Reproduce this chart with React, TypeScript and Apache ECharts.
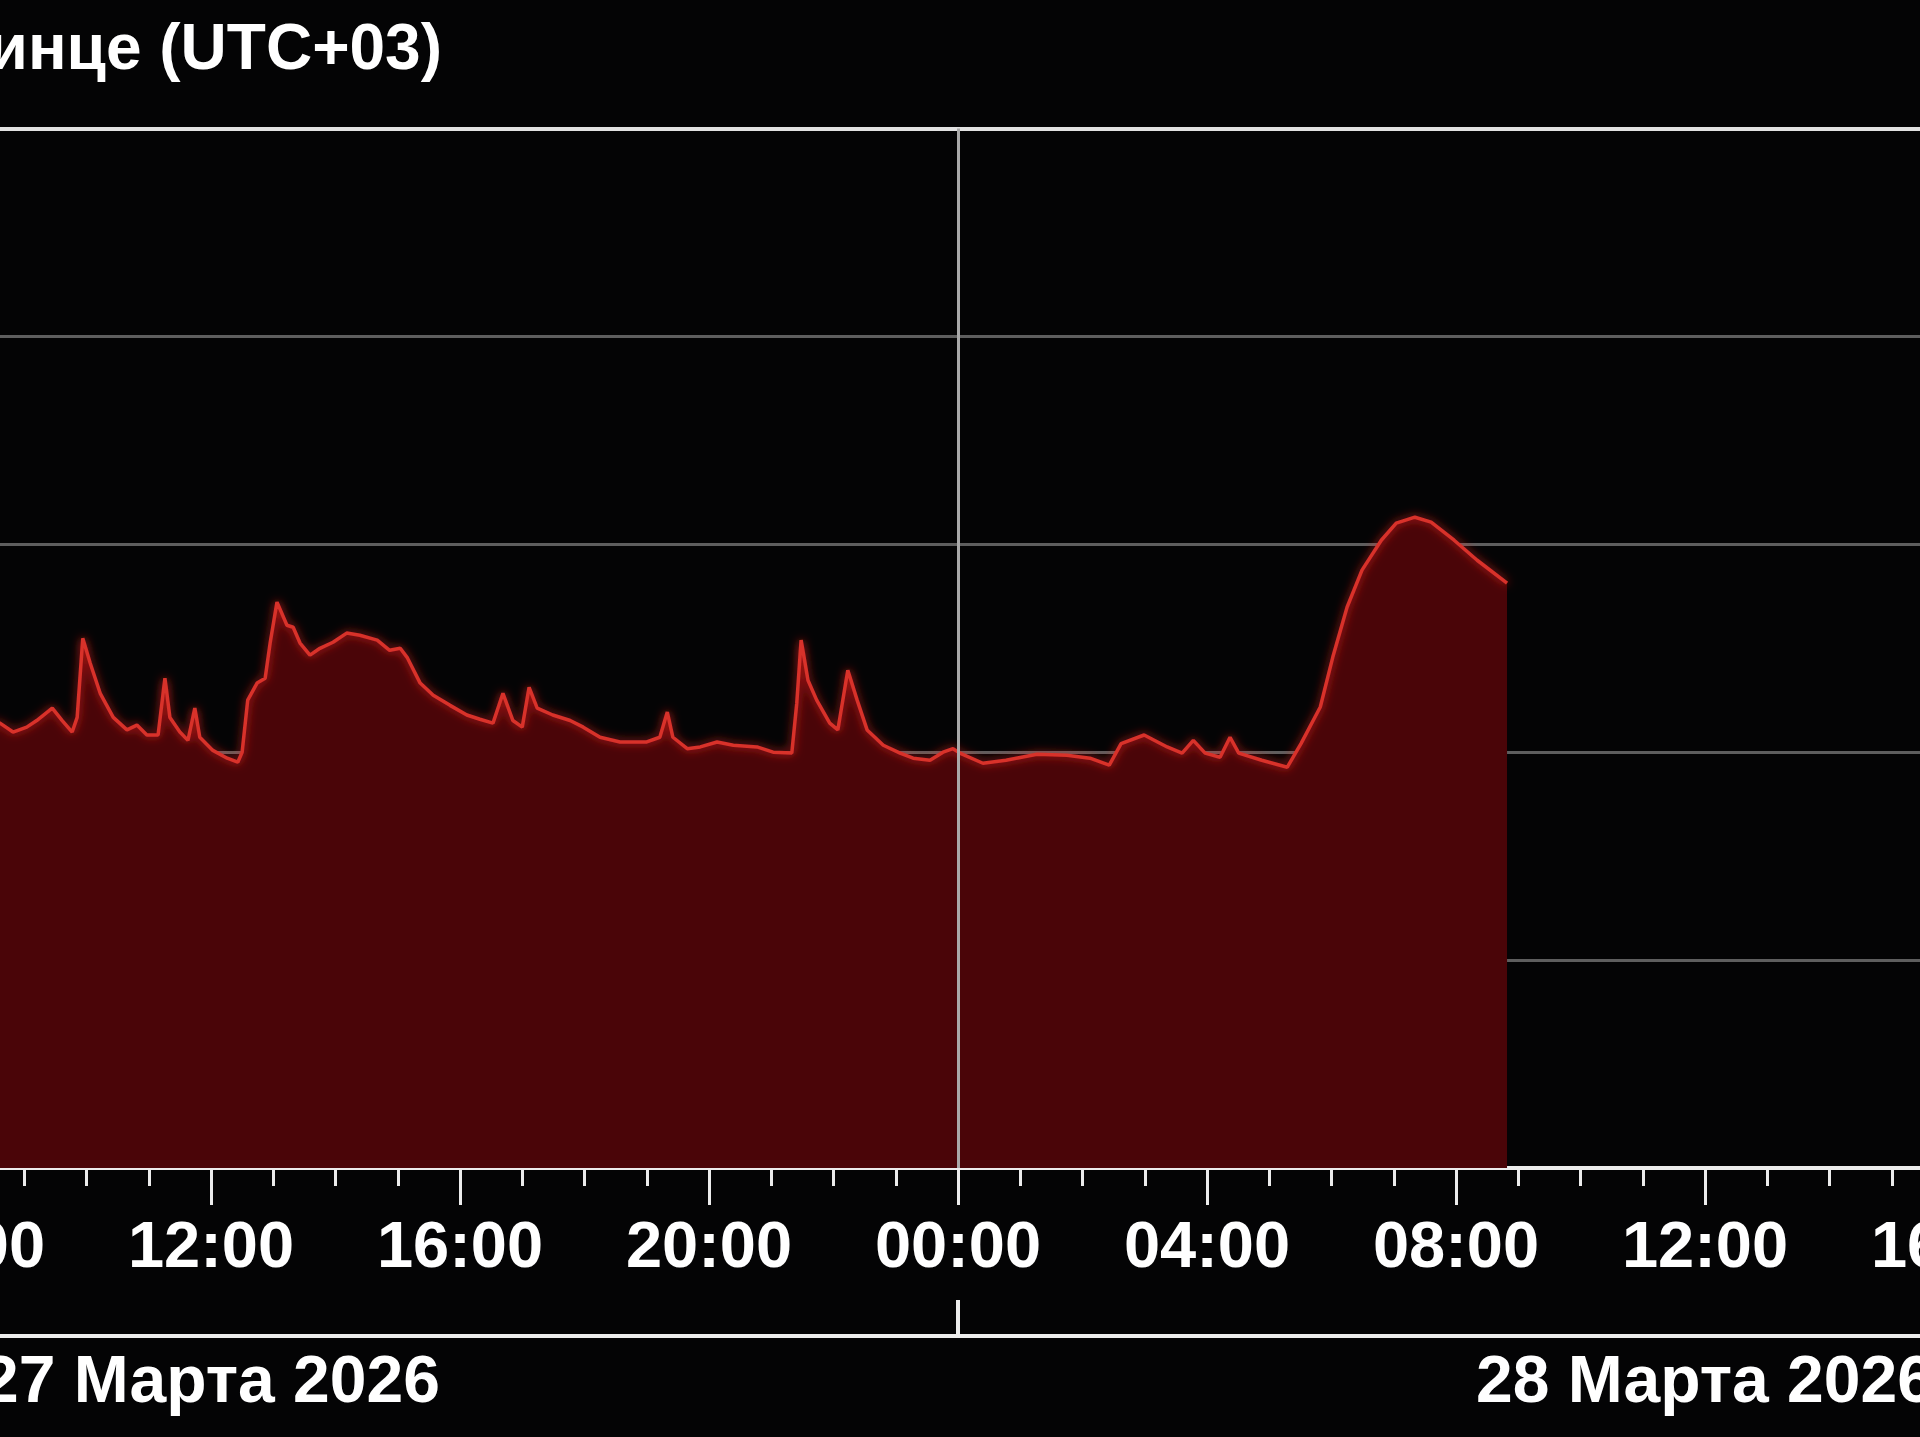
import React, { useEffect, useRef } from 'react';
import * as echarts from 'echarts';

// Hours counted from 27 March 2026 00:00 (UTC+03)
const HOURS = [
  8.4, 8.61, 8.82, 9.04, 9.2, 9.45, 9.61, 9.77, 9.85, 9.94, 10.06, 10.22, 10.43, 10.65, 10.81, 10.97,
  11.15, 11.26, 11.34, 11.5, 11.63, 11.74, 11.82, 12.03, 12.26, 12.43, 12.5, 12.59, 12.74, 12.87, 12.95,
  13.06, 13.22, 13.32, 13.43, 13.59, 13.75, 13.96, 14.18, 14.39, 14.67, 14.87, 15.04, 15.15, 15.36, 15.57,
  15.84, 16.11, 16.32, 16.53, 16.69, 16.85, 17.0, 17.11, 17.24, 17.49, 17.77, 17.98, 18.25, 18.57, 19.0,
  19.21, 19.33, 19.42, 19.65, 19.86, 20.13, 20.39, 20.77, 21.03, 21.33, 21.41, 21.48, 21.59, 21.73, 21.94,
  22.07, 22.23, 22.38, 22.54, 22.8, 23.07, 23.28, 23.55, 23.76, 23.92, 24.03, 24.4, 24.77, 25.27, 25.75,
  26.12, 26.43, 26.62, 26.99, 27.36, 27.6, 27.78, 27.97, 28.21, 28.37, 28.51, 28.88, 29.29, 29.51, 29.82,
  30.02, 30.25, 30.49, 30.8, 31.04, 31.34, 31.6, 31.97, 32.34, 32.82,
];

// X-ray flux, W/m^2
const FLUX = [
  1.38e-7, 1.38e-7, 1.25e-7, 1.32e-7, 1.42e-7, 1.63e-7, 1.42e-7, 1.25e-7, 1.47e-7, 3.53e-7, 2.68e-7, 1.92e-7, 1.47e-7, 1.28e-7, 1.35e-7, 1.21e-7,
  1.21e-7, 2.27e-7, 1.47e-7, 1.25e-7, 1.14e-7, 1.63e-7, 1.18e-7, 1.02e-7, 9.36e-8, 8.95e-8, 1.0e-7, 1.78e-7, 2.15e-7, 2.27e-7, 3.35e-7,
  5.27e-7, 4.08e-7, 3.99e-7, 3.35e-7, 2.93e-7, 3.16e-7, 3.38e-7, 3.74e-7, 3.65e-7, 3.46e-7, 3.09e-7, 3.16e-7, 2.86e-7, 2.15e-7, 1.88e-7,
  1.68e-7, 1.51e-7, 1.44e-7, 1.38e-7, 1.92e-7, 1.42e-7, 1.32e-7, 2.05e-7, 1.63e-7, 1.51e-7, 1.42e-7, 1.32e-7, 1.18e-7, 1.12e-7, 1.12e-7,
  1.18e-7, 1.56e-7, 1.18e-7, 1.04e-7, 1.06e-7, 1.12e-7, 1.08e-7, 1.06e-7, 1.0e-7, 9.9e-8, 1.72e-7, 3.46e-7, 2.22e-7, 1.78e-7, 1.38e-7,
  1.28e-7, 2.48e-7, 1.78e-7, 1.28e-7, 1.08e-7, 9.9e-8, 9.36e-8, 9.15e-8, 1.0e-7, 1.04e-7, 9.9e-8, 8.85e-8, 9.15e-8, 9.78e-8, 9.67e-8,
  9.36e-8, 8.66e-8, 1.1e-7, 1.21e-7, 1.06e-7, 9.9e-8, 1.14e-7, 9.9e-8, 9.46e-8, 1.18e-7, 9.9e-8, 9.15e-8, 8.47e-8, 1.1e-7, 1.65e-7,
  2.86e-7, 4.98e-7, 7.51e-7, 1.046e-6, 1.264e-6, 1.35e-6, 1.278e-6, 1.046e-6, 8.38e-7, 6.5e-7,
];

const X_MIN = 4;
const X_MAX = 44;
const DAY_BOUNDARY = [24];
const DATE_LABEL_HOURS = [12, 36];
const DATE_LABELS = ['27 Марта 2026', '28 Марта 2026'];
const TITLE = 'инце (UTC+03)';
const Y_MIN = 1e-9;
const Y_MAX = 1e-4;

const FONT = "'Liberation Sans', Arial, sans-serif";

export default function App() {
  const ref = useRef<HTMLDivElement>(null);
  useEffect(() => {
    const chart = echarts.init(ref.current as HTMLDivElement, null, { renderer: 'svg' });
    const data = HOURS.map((h, i) => [h, FLUX[i]]);
    const fmt = (v: number) => {
      const h = ((Math.round(v) % 24) + 24) % 24;
      return (h < 10 ? '0' : '') + h + ':00';
    };
    const white = '#ececec';
    chart.setOption({
      animation: false,
      backgroundColor: '#040405',
      grid: {
        left: -287,
        right: -283,
        top: 128.5,
        bottom: 269,
        containLabel: false,
        outerBoundsMode: 'none',
      },
      graphic: [
        {
          type: 'text',
          x: 442,
          y: 47,
          style: {
            text: TITLE,
            fill: '#ffffff',
            fontSize: 64,
            fontWeight: 'bold',
            fontFamily: FONT,
            align: 'right',
            verticalAlign: 'middle',
          },
        },
      ],
      xAxis: [
        {
          type: 'value',
          min: X_MIN,
          max: X_MAX,
          interval: 4,
          position: 'bottom',
          axisLine: { show: true, lineStyle: { color: white, width: 4 } },
          axisTick: { show: true, length: 37, lineStyle: { color: white, width: 3 } },
          minorTick: { show: true, splitNumber: 4, length: 18, lineStyle: { color: white, width: 3 } },
          axisLabel: {
            color: '#ffffff',
            fontSize: 65,
            fontWeight: 'bold',
            fontFamily: FONT,
            margin: 44,
            formatter: fmt,
          },
          splitLine: { show: false },
          minorSplitLine: { show: false },
        },
        {
          type: 'value',
          min: X_MIN,
          max: X_MAX,
          interval: 4,
          position: 'bottom',
          offset: 168,
          axisLine: { show: true, lineStyle: { color: white, width: 4 } },
          axisTick: {
            show: true,
            inside: true,
            length: 36,
            customValues: DAY_BOUNDARY,
            lineStyle: { color: white, width: 4 },
          },
          axisLabel: {
            color: '#ffffff',
            fontSize: 66,
            fontWeight: 'bold',
            fontFamily: FONT,
            margin: 10,
            customValues: DATE_LABEL_HOURS,
            formatter: (v: number) => {
              const i = DATE_LABEL_HOURS.indexOf(Math.round(v));
              return i >= 0 ? DATE_LABELS[i] : '';
            },
          },
          splitLine: { show: false },
        },
        {
          type: 'value',
          min: X_MIN,
          max: X_MAX,
          position: 'top',
          axisLine: { show: true, lineStyle: { color: '#e2e2e2', width: 4 } },
          axisTick: { show: false },
          axisLabel: { show: false },
          splitLine: { show: false },
        },
      ],
      yAxis: {
        type: 'log',
        logBase: 10,
        min: Y_MIN,
        max: Y_MAX,
        axisLine: { show: false },
        axisTick: { show: false },
        axisLabel: { show: false },
        splitLine: { show: true, lineStyle: { color: '#5e5e5e', width: 3 } },
      },
      series: [
        {
          type: 'line',
          xAxisIndex: 0,
          yAxisIndex: 0,
          data,
          symbol: 'none',
          showSymbol: false,
          smooth: false,
          lineStyle: {
            color: '#d8302a',
            width: 3.5,
            shadowColor: 'rgba(255,40,35,0.8)',
            shadowBlur: 10,
          },
          areaStyle: { color: '#4a0508', opacity: 1, origin: 'start' },
          markLine: {
            silent: true,
            symbol: ['none', 'none'],
            label: { show: false },
            lineStyle: { color: '#a9a9a9', width: 3, type: 'solid' },
            data: [{ xAxis: DAY_BOUNDARY[0] }],
          },
        },
      ],
    });
    return () => chart.dispose();
  }, []);
  return (
    <div
      ref={ref}
      style={{ position: 'absolute', left: 0, top: 0, width: 1920, height: 1437 }}
    />
  );
}
